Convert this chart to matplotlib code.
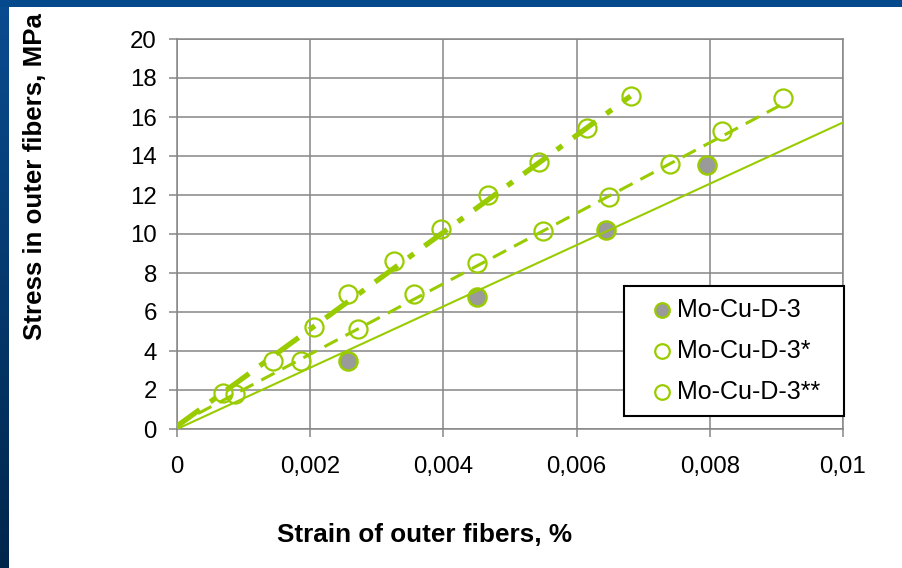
import matplotlib
matplotlib.use('Agg')
import matplotlib.pyplot as plt
import numpy as np
from matplotlib.lines import Line2D
from matplotlib.patches import Rectangle
from matplotlib.colors import LinearSegmentedColormap

plt.rcParams['font.family'] = ['Liberation Sans', 'DejaVu Sans']

# ---- data ----
strain_d3 = [0.00257, 0.0045, 0.00644, 0.00796]
stress_d3 = [3.50, 6.77, 10.19, 13.54]

strain_d3s = [0.00087, 0.00186, 0.00272, 0.00356, 0.0045, 0.00549, 0.00648, 0.0074, 0.00819, 0.0091]
stress_d3s = [1.78, 3.50, 5.13, 6.92, 8.53, 10.17, 11.91, 13.57, 15.28, 16.96]

strain_d3ss = [0.000686, 0.00144, 0.00206, 0.00257, 0.00326, 0.00396, 0.00467, 0.00543, 0.00615, 0.00681]
stress_d3ss = [1.86, 3.50, 5.25, 6.91, 8.63, 10.26, 12.00, 13.68, 15.42, 17.08]

# trend lines (slope, intercept, x-range end)
trend_slope = [1572, 1808, 2485]
trend_intercept = [0.0, 0.22, 0.15]
trend_xend = [0.01, 0.0091, 0.00681]

series_labels = ['Mo-Cu-D-3', 'Mo-Cu-D-3*', 'Mo-Cu-D-3**']
xticks = [0, 0.002, 0.004, 0.006, 0.008, 0.01]
xticklabels = ['0', '0,002', '0,004', '0,006', '0,008', '0,01']
yticks = list(range(0, 21, 2))

GREEN = '#99cc00'
GRID = '#868686'
GRAYFILL = '#9a9a9a'

W, H = 902, 568
fig = plt.figure(figsize=(W / 100, H / 100), dpi=100)
fig.patch.set_facecolor('white')

# blue slide border (top and left)
bg = fig.add_axes([0, 0, 9 / W, 1])
grad = np.linspace(0, 1, 256).reshape(-1, 1)
cmap = LinearSegmentedColormap.from_list('b', ['#0a4c90', '#00264c'])
bg.imshow(grad, aspect='auto', cmap=cmap, extent=[0, 1, 0, 1])
bg.axis('off')
top = fig.add_axes([0, 1 - 7 / H, 1, 7 / H])
top.set_facecolor('#03498c')
top.set_xticks([]); top.set_yticks([])
for s in top.spines.values():
    s.set_visible(False)

ax = fig.add_axes([177 / W, 1 - 429 / H, 666 / W, 390 / H])
ax.set_xlim(0, 0.01)
ax.set_ylim(0, 20)
ax.set_xticks(xticks)
ax.set_xticklabels(xticklabels)
ax.set_yticks(yticks)
ax.grid(True, color=GRID, lw=1.1)
ax.set_axisbelow(True)
for s in ax.spines.values():
    s.set_color(GRID)
    s.set_linewidth(1.1)
ax.tick_params(axis='both', direction='out', length=5.5, width=1.1, color=GRID,
               labelsize=17.3, labelcolor='black')
ax.tick_params(axis='x', pad=14)
ax.tick_params(axis='y', pad=9)

# markers
ax.plot(strain_d3, stress_d3, 'o', ms=13, mfc=GRAYFILL, mec=GREEN, mew=1.8, zorder=3)
ax.plot(strain_d3s, stress_d3s, 'o', ms=13, mfc='none', mec=GREEN, mew=1.6, zorder=3)
ax.plot(strain_d3ss, stress_d3ss, 'o', ms=13, mfc='none', mec=GREEN, mew=1.6, zorder=3)

# trend lines
styles = [dict(ls='-', lw=1.5),
          dict(ls=(0, (4.9, 2.9)), lw=2.2),
          dict(ls=(0, (5.3, 2.5, 1.3, 2.5)), lw=3.8)]
for k in range(3):
    xs = np.array([0.0, trend_xend[k]])
    ys = trend_slope[k] * xs + trend_intercept[k]
    ax.plot(xs, ys, color=GREEN, solid_capstyle='butt', dash_capstyle='butt',
            zorder=4, **styles[k])

# legend box (drawn in figure pixels to match the reference placement)
def fx(px):
    return px / W

def fy(py):
    return 1 - py / H

fig.add_artist(Rectangle((fx(624), fy(416)), 220 / W, 130 / H, transform=fig.transFigure,
                         facecolor='white', edgecolor='black', lw=1.5, zorder=10))
marker_styles = [dict(mfc=GRAYFILL), dict(mfc='white'), dict(mfc='white')]
row_y = [310, 351, 392]
for lab, ms_, ry in zip(series_labels, marker_styles, row_y):
    fig.add_artist(Line2D([fx(662)], [fy(ry)], transform=fig.transFigure, ls='none',
                          marker='o', ms=10.5, mec=GREEN, mew=1.6, zorder=11, **ms_))
    fig.text(fx(677), fy(ry), lab, ha='left', va='center', fontsize=18, zorder=11)

fig.text(425 / W, 1 - 535 / H, 'Strain of outer fibers, %', ha='center', va='center',
         fontsize=18.8, fontweight='bold')
fig.text(35 / W, 1 - 177 / H, 'Stress in outer fibers, MPa', ha='center', va='center',
         rotation=90, fontsize=18.6, fontweight='bold')

fig.savefig('out.png', dpi=100, facecolor='white')
